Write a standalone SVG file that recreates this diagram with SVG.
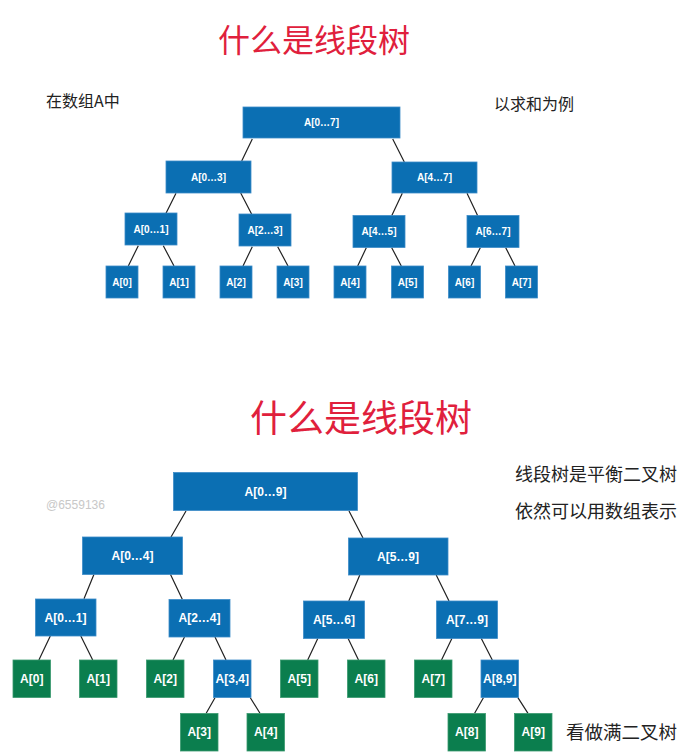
<svg xmlns="http://www.w3.org/2000/svg" width="691" height="753" viewBox="0 0 691 753">
<style>
.b{fill:#0b6fb3;stroke:#3d8cc8;stroke-width:0.8}
.g{fill:#0b7e4e;stroke:#3a9a6e;stroke-width:0.8}
.t1{font-family:"Liberation Sans",Arial,sans-serif;font-weight:bold;font-size:10px;fill:#fff;text-anchor:middle;dominant-baseline:central}
.t2{font-family:"Liberation Sans",Arial,sans-serif;font-weight:bold;font-size:12px;fill:#fff;text-anchor:middle;dominant-baseline:central}
.title{font-family:"Noto Sans CJK SC","Noto Sans",sans-serif;fill:#e0203c;dominant-baseline:central}
.note{font-family:"Noto Sans CJK SC","Noto Sans",sans-serif;fill:#222;dominant-baseline:central}
.ln{stroke:#222;stroke-width:1.2;fill:none}
</style>
<rect width="691" height="753" fill="#fff"/>
<text class="title" x="218" y="38" font-size="32">什么是线段树</text>
<text class="note" x="46" y="100" font-size="16">在数组A中</text>
<text class="note" x="494" y="103" font-size="16">以求和为例</text>
<text class="title" x="250" y="416" font-size="37">什么是线段树</text>
<text x="46" y="505" font-family="Liberation Sans,Arial,sans-serif" font-size="12" fill="#c8c8c8" dominant-baseline="central">@6559136</text>
<text class="note" x="515" y="473" font-size="18">线段树是平衡二叉树</text>
<text class="note" x="515" y="510" font-size="18">依然可以用数组表示</text>
<text class="note" x="566" y="731" font-size="18.5">看做满二叉树</text>
<g id="connectors">
<path class="ln" d="M252.3 139 L241.7 161 M392.7 139 L404.3 162 M176 193.3 L166 213.3 M240.7 193 L251.7 214.3 M402.3 193.3 L391.7 215.7 M467 193.3 L477.7 215.7 M138.3 245.7 L128.3 266 M163.3 245.7 L174 266 M252.3 246.7 L243 266 M277.7 246.7 L288 266 M366.3 247.7 L357.7 266 M391.7 247.7 L401.3 266 M480.3 247.7 L471 266 M505.7 247.7 L515 266"/>
<path class="ln" d="M186 511 L171 537 M349 511 L363 538 M94 574.3 L84 598.7 M170.4 574.3 L182.3 599.3 M359.8 575 L348.8 601 M436.2 575 L449 601 M50.3 636 L38.9 660 M80.8 636 L92.7 660 M184.5 637 L173 660 M215 637 L226 660 M317.9 638.3 L307.7 660 M348 638.3 L358.5 660 M452 638.3 L441.5 660 M481.2 638.3 L492.3 660 M215 697.7 L206.2 713.3 M250.3 697.7 L260 713.3 M483.4 697.7 L474.6 713.3 M517.9 697.7 L528 713.3"/>
</g>
<g id="n07"><rect class="b" x="243" y="107" width="157" height="31"/><text class="t1" x="321.5" y="122.5">A[0…7]</text></g>
<g id="n03"><rect class="b" x="166" y="161" width="85" height="32"/><text class="t1" x="208.5" y="177">A[0…3]</text></g>
<g id="n47"><rect class="b" x="392" y="162" width="85" height="31"/><text class="t1" x="434.5" y="177.5">A[4…7]</text></g>
<g id="n01a"><rect class="b" x="125" y="213" width="52" height="32"/><text class="t1" x="151" y="229">A[0…1]</text></g>
<g id="n23"><rect class="b" x="239" y="214" width="52" height="32"/><text class="t1" x="265" y="230">A[2…3]</text></g>
<g id="n45"><rect class="b" x="353" y="215.5" width="52" height="32"/><text class="t1" x="379" y="231.5">A[4…5]</text></g>
<g id="n67"><rect class="b" x="467" y="215.5" width="52" height="32"/><text class="t1" x="493" y="231.5">A[6…7]</text></g>
<g id="a0"><rect class="b" x="106" y="266" width="32" height="32"/><text class="t1" x="122" y="282">A[0]</text></g>
<g id="a1"><rect class="b" x="163" y="266" width="32" height="32"/><text class="t1" x="179" y="282">A[1]</text></g>
<g id="a2"><rect class="b" x="220" y="266" width="32" height="32"/><text class="t1" x="236" y="282">A[2]</text></g>
<g id="a3"><rect class="b" x="277" y="266" width="32" height="32"/><text class="t1" x="293" y="282">A[3]</text></g>
<g id="a4"><rect class="b" x="334" y="266" width="32" height="32"/><text class="t1" x="350" y="282">A[4]</text></g>
<g id="a5"><rect class="b" x="391.5" y="266" width="32" height="32"/><text class="t1" x="407.5" y="282">A[5]</text></g>
<g id="a6"><rect class="b" x="448.5" y="266" width="32" height="32"/><text class="t1" x="464.5" y="282">A[6]</text></g>
<g id="a7"><rect class="b" x="505.5" y="266" width="32" height="32"/><text class="t1" x="521.5" y="282">A[7]</text></g>

<g id="m09"><rect class="b" x="173.5" y="472.5" width="184" height="38"/><text class="t2" x="265.5" y="491.5">A[0…9]</text></g>
<g id="m04"><rect class="b" x="82.5" y="537" width="100" height="37.5"/><text class="t2" x="132.5" y="555.5">A[0…4]</text></g>
<g id="m59"><rect class="b" x="348.5" y="538" width="99.5" height="37"/><text class="t2" x="398" y="556.5">A[5…9]</text></g>
<g id="m01"><rect class="b" x="35.5" y="599" width="60.5" height="37"/><text class="t2" x="65.5" y="617.5">A[0…1]</text></g>
<g id="m24"><rect class="b" x="169" y="599.5" width="61" height="37.5"/><text class="t2" x="199.5" y="618">A[2…4]</text></g>
<g id="m56"><rect class="b" x="303.5" y="601" width="61" height="37.5"/><text class="t2" x="334" y="619.5">A[5…6]</text></g>
<g id="m79"><rect class="b" x="436.5" y="601" width="61" height="37.5"/><text class="t2" x="467" y="619.5">A[7…9]</text></g>
<g id="b0"><rect class="g" x="13" y="660" width="37.5" height="37.5"/><text class="t2" x="31.75" y="678.5">A[0]</text></g>
<g id="b1"><rect class="g" x="79.5" y="660" width="37.5" height="37.5"/><text class="t2" x="98.25" y="678.5">A[1]</text></g>
<g id="b2"><rect class="g" x="146.5" y="660" width="37.5" height="37.5"/><text class="t2" x="165.25" y="678.5">A[2]</text></g>
<g id="m34"><rect class="b" x="213.5" y="660" width="37.5" height="37.5"/><text class="t2" x="232.25" y="678.5">A[3,4]</text></g>
<g id="b5"><rect class="g" x="280.5" y="660" width="37.5" height="37.5"/><text class="t2" x="299.25" y="678.5">A[5]</text></g>
<g id="b6"><rect class="g" x="347.5" y="660" width="37.5" height="37.5"/><text class="t2" x="366.25" y="678.5">A[6]</text></g>
<g id="b7"><rect class="g" x="414.5" y="660" width="37.5" height="37.5"/><text class="t2" x="433.25" y="678.5">A[7]</text></g>
<g id="m89"><rect class="b" x="481" y="660" width="37.5" height="37.5"/><text class="t2" x="499.75" y="678.5">A[8,9]</text></g>
<g id="b3"><rect class="g" x="180.5" y="713.5" width="37.5" height="37.5"/><text class="t2" x="199.25" y="732">A[3]</text></g>
<g id="b4"><rect class="g" x="247" y="713.5" width="37.5" height="37.5"/><text class="t2" x="265.75" y="732">A[4]</text></g>
<g id="b8"><rect class="g" x="448" y="713.5" width="37.5" height="37.5"/><text class="t2" x="466.75" y="732">A[8]</text></g>
<g id="b9"><rect class="g" x="514.5" y="713.5" width="37.5" height="37.5"/><text class="t2" x="533.25" y="732">A[9]</text></g>
</svg>
